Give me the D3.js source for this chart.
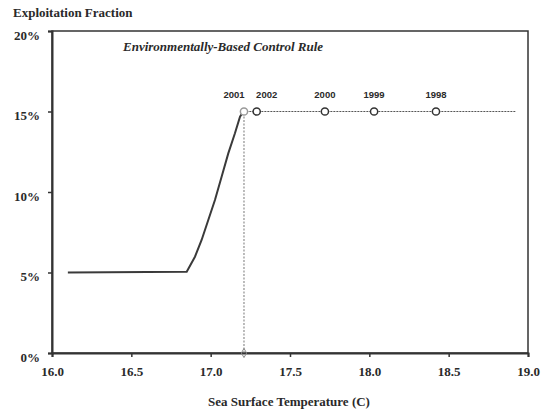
<!DOCTYPE html>
<html>
<head>
<meta charset="utf-8">
<script src="https://cdn.jsdelivr.net/npm/d3@7"></script>
<style>
  body { margin: 0; background: #fff; }
  text { fill: #2a2a2a; }
</style>
</head>
<body>
<div id="chart"></div>
<script>
// control rule curve (SST, exploitation %)
var ruleX = [16.1, 16.849, 16.901, 16.943, 16.985, 17.027, 17.069, 17.111, 17.153, 17.185, 17.206, 17.3, 18.92];
var ruleY = [5, 5.05, 5.98, 7.02, 8.26, 9.5, 10.95, 12.4, 13.65, 14.68, 15, 15, 15];

// yearly points
var years = ["2001", "2002", "2000", "1999", "1998"];
var yearX = [17.21, 17.29, 17.72, 18.03, 18.42];
var yearY = [15, 15, 15, 15, 15];

var xTicks = [16.0, 16.5, 17.0, 17.5, 18.0, 18.5, 19.0];
var yTicks = [0, 5, 10, 15, 20];

var margin = {top: 31, right: 20, bottom: 56, left: 52},
  width = 548 - margin.left - margin.right,
  height = 409 - margin.top - margin.bottom;

var svg = d3.select("#chart")
  .append("svg")
  .attr("width", 548)
  .attr("height", 409);

var g = svg.append("g")
  .attr("transform", "translate(" + margin.left + "," + margin.top + ")");

var x = d3.scaleLinear().domain([16, 19]).range([0, width]);
var y = d3.scaleLinear().domain([0, 20]).range([height, 0]);

var serif = "'Liberation Serif', 'Times New Roman', serif";
var sans = "'Liberation Sans', Arial, sans-serif";

// frame top / right
g.append("rect")
  .attr("x", 0).attr("y", 0)
  .attr("width", width).attr("height", height)
  .attr("fill", "none")
  .attr("stroke", "#333")
  .attr("stroke-width", 1.5);

// axes
var xAxis = g.append("g")
  .attr("transform", "translate(0," + height + ")")
  .call(d3.axisBottom(x).tickValues(xTicks).tickFormat(d3.format(".1f")).tickSize(4).tickPadding(10));
var yAxis = g.append("g")
  .call(d3.axisLeft(y).tickValues(yTicks).tickFormat(d => d + "%").tickSize(4).tickPadding(8));

[xAxis, yAxis].forEach(function(a) {
  a.select(".domain").attr("stroke", "#333").attr("stroke-width", 2);
  a.selectAll(".tick line").attr("stroke", "#333").attr("stroke-width", 1.5);
  a.selectAll("text")
    .style("font-family", serif)
    .style("font-weight", "bold")
    .style("font-size", "13px")
    .attr("fill", "#2a2a2a");
});
yAxis.selectAll("text").attr("dy", "0.65em");

// vertical dotted line at 2001
g.append("line")
  .attr("x1", x(yearX[0])).attr("x2", x(yearX[0]))
  .attr("y1", y(0)).attr("y2", y(15))
  .attr("stroke", "#777")
  .attr("stroke-width", 1)
  .attr("stroke-dasharray", "2,1.5");

g.append("path")
  .attr("d", d3.symbol().type(d3.symbolDiamond).size(24)())
  .attr("transform", "translate(" + x(yearX[0]) + "," + y(0) + ")")
  .attr("fill", "none")
  .attr("stroke", "#888")
  .attr("stroke-width", 1);

// control rule: solid part then dotted along 15%
var pts = ruleX.map((d, i) => [d, ruleY[i]]);
var line = d3.line().x(d => x(d[0])).y(d => y(d[1]));

g.append("path")
  .datum(pts.slice(0, 11))
  .attr("d", line)
  .attr("fill", "none")
  .attr("stroke", "#3a3a3a")
  .attr("stroke-width", 2);

g.append("path")
  .datum(pts.slice(10))
  .attr("d", line)
  .attr("fill", "none")
  .attr("stroke", "#555")
  .attr("stroke-width", 1.2)
  .attr("stroke-dasharray", "2,1");

// year markers
var yearPts = years.map((d, i) => ({name: d, x: yearX[i], y: yearY[i]}));

g.selectAll("circle.yr")
  .data(yearPts)
  .enter()
  .append("circle")
  .attr("class", "yr")
  .attr("cx", d => x(d.x))
  .attr("cy", d => y(d.y))
  .attr("r", 3.6)
  .attr("fill", "#fff")
  .attr("stroke", (d, i) => i == 0 ? "#999" : "#333")
  .attr("stroke-width", 1.5);

g.selectAll("text.yr")
  .data(yearPts)
  .enter()
  .append("text")
  .attr("class", "yr")
  .attr("x", (d, i) => x(d.x) + (i == 0 ? -10 : i == 1 ? 10 : 0))
  .attr("y", d => y(d.y) - 14)
  .attr("text-anchor", "middle")
  .style("font-family", sans)
  .style("font-weight", "bold")
  .style("font-size", "9.5px")
  .text(d => d.name);

// titles
svg.append("text")
  .attr("x", 13).attr("y", 17)
  .style("font-family", serif)
  .style("font-weight", "bold")
  .style("font-size", "13px")
  .text("Exploitation Fraction");

g.append("text")
  .attr("x", 71).attr("y", 20)
  .style("font-family", serif)
  .style("font-weight", "bold")
  .style("font-style", "italic")
  .style("font-size", "13px")
  .text("Environmentally-Based Control Rule");

svg.append("text")
  .attr("x", 289).attr("y", 406)
  .attr("text-anchor", "middle")
  .style("font-family", serif)
  .style("font-weight", "bold")
  .style("font-size", "13px")
  .text("Sea Surface Temperature (C)");
</script>
</body>
</html>
